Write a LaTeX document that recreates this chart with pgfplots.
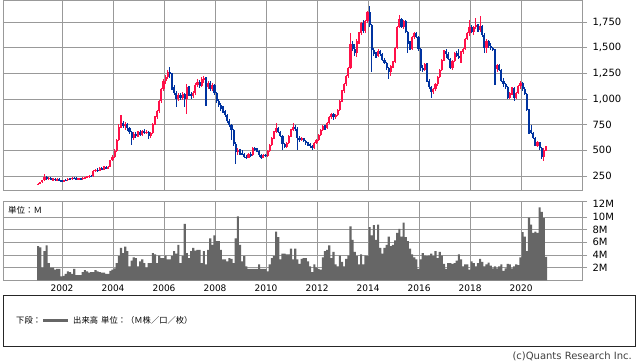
\documentclass[border=0pt]{standalone}
\usepackage{fontspec}
\setmainfont{DejaVu Sans}
\newfontfamily\jp{Noto Sans CJK JP}
\usepackage{pgfplots}
\usepackage{pgfplotstable}
\pgfplotsset{compat=1.18}
\definecolor{cup}{RGB}{255,16,72}
\definecolor{cdn}{RGB}{0,51,160}
\definecolor{gridc}{RGB}{153,153,153}
\definecolor{volc}{RGB}{102,102,102}

% monthly candles, Feb 2001 - Jan 2021: open high low close volume(M)
\pgfplotstableread{
o h l c v
165 185 160 175 5.4
175 195 170 190 5.2
190 215 185 210 2.0
210 270 205 245 4.6
245 250 215 225 5.5
225 240 212 235 2.7
235 240 210 215 2.0
215 230 205 225 2.0
225 232 200 210 1.7
210 228 205 222 1.8
222 228 198 205 1.8
205 212 188 198 0.6
198 215 190 212 0.7
212 225 205 208 1.0
208 230 205 225 1.4
225 235 215 220 1.3
220 238 215 232 1.0
232 240 222 228 1.8
228 236 212 218 0.8
218 232 210 228 0.8
228 234 215 222 0.8
222 236 208 230 1.3
230 245 222 240 1.6
240 252 232 245 1.4
245 258 235 250 1.2
250 262 240 248 1.3
248 310 245 300 1.3
300 320 290 310 1.6
310 330 290 300 1.4
300 335 295 325 1.3
325 335 305 315 1.2
315 345 310 335 1.2
335 348 315 320 1.0
320 345 315 340 1.0
340 410 335 405 1.5
405 450 395 440 1.7
440 510 430 490 1.9
490 610 480 600 2.7
600 760 590 730 3.8
730 845 715 770 5.1
770 790 720 740 4.3
740 775 700 760 5.3
760 770 690 720 4.6
720 730 660 680 2.2
680 690 550 620 3.1
620 680 605 660 3.6
660 680 625 640 3.5
640 690 630 675 2.2
675 700 640 650 3.0
650 700 640 690 3.3
690 705 660 670 2.7
670 695 655 680 2.0
680 690 615 640 2.7
640 680 625 670 2.7
670 770 660 760 4.3
760 830 745 820 4.1
820 895 805 880 2.7
880 990 865 980 3.9
980 1110 965 1100 3.5
1100 1190 1080 1180 3.5
1180 1230 1150 1210 3.9
1210 1280 1190 1260 3.3
1260 1310 1200 1240 3.3
1240 1250 1090 1120 3.8
1120 1140 1040 1060 4.6
1060 1080 920 1000 4.2
1000 1060 980 1040 5.6
1040 1060 990 1010 2.7
1010 1070 990 1050 3.8
1050 1060 920 1000 8.9
1000 1150 855 1120 4.3
1120 1130 1030 1050 3.5
1050 1070 1000 1030 4.6
1030 1080 1010 1060 5.1
1060 1160 1040 1140 4.7
1140 1190 1120 1170 4.8
1170 1185 1110 1130 4.8
1130 1210 1120 1190 2.7
1190 1225 1160 1200 4.6
1200 1210 935 1120 2.5
1120 1180 1100 1160 4.8
1160 1175 1080 1100 6.6
1100 1160 1080 1140 5.6
1140 1150 1040 1060 7.1
1060 1070 960 980 6.2
980 1000 920 940 6.2
940 960 880 900 4.8
900 930 860 880 3.3
880 895 820 840 3.3
840 850 770 790 3.0
790 810 730 750 3.5
750 760 600 700 3.4
700 710 540 560 2.7
560 580 370 480 6.6
480 520 450 500 10.1
500 515 455 470 5.6
470 500 450 460 3.0
460 475 430 440 3.8
440 455 420 430 2.2
430 470 425 460 1.8
460 480 440 450 1.8
450 535 445 520 1.8
520 530 490 500 1.8
500 520 480 490 1.8
490 500 440 450 2.5
450 460 420 430 1.8
430 465 425 455 1.8
455 465 435 445 1.8
445 500 440 490 1.4
490 560 485 550 2.5
550 630 545 620 3.5
620 690 610 680 3.8
680 765 670 720 7.7
720 725 670 680 6.8
680 690 630 640 3.3
640 650 500 560 4.2
560 575 520 530 4.2
530 580 520 570 4.1
570 650 560 640 4.1
640 710 630 700 5.0
700 765 690 730 3.3
730 745 690 710 5.0
710 725 500 620 3.3
620 635 585 600 2.6
600 630 590 620 3.4
620 625 580 590 3.5
590 600 555 570 3.5
570 585 545 560 3.0
560 575 525 540 2.2
540 550 500 520 1.3
520 580 515 570 2.5
570 610 560 600 2.0
600 660 590 650 1.8
650 710 640 700 1.7
700 750 690 740 3.6
740 750 700 720 4.6
720 780 710 770 4.8
770 830 760 820 5.5
820 860 805 850 3.5
850 860 800 820 4.5
820 850 810 840 2.5
840 900 830 890 2.2
890 990 880 985 3.9
985 1090 970 1080 2.9
1080 1160 1060 1150 2.2
1150 1230 1130 1220 3.4
1220 1310 1200 1300 3.9
1300 1640 1290 1540 8.5
1540 1560 1470 1490 6.4
1490 1540 1420 1450 4.5
1450 1580 1410 1560 3.8
1560 1650 1540 1640 2.5
1640 1750 1620 1740 4.1
1740 1770 1640 1660 2.5
1660 1770 1640 1760 3.9
1760 1860 1740 1850 3.8
1850 1910 1700 1720 8.4
1720 1730 1260 1480 7.1
1480 1500 1420 1440 8.7
1440 1460 1400 1420 6.4
1420 1490 1410 1470 8.8
1470 1480 1420 1440 5.1
1440 1450 1370 1380 4.2
1380 1400 1340 1350 5.1
1350 1365 1280 1300 5.6
1300 1310 1190 1260 6.9
1260 1330 1220 1320 5.4
1320 1370 1300 1360 5.6
1360 1510 1350 1500 6.3
1500 1710 1490 1700 7.5
1700 1820 1690 1780 8.1
1780 1790 1690 1700 6.9
1700 1770 1680 1760 9.1
1760 1770 1640 1650 6.8
1650 1660 1450 1540 6.2
1540 1560 1480 1490 5.0
1490 1610 1480 1600 4.1
1600 1650 1580 1640 3.6
1640 1650 1590 1600 3.3
1600 1610 1470 1490 1.8
1490 1500 1270 1300 3.3
1300 1330 1260 1280 4.3
1280 1350 1270 1340 3.9
1340 1350 1170 1180 3.8
1180 1190 1100 1120 3.9
1120 1130 1010 1070 4.2
1070 1110 1050 1100 3.8
1100 1160 1080 1150 4.6
1150 1220 1130 1210 3.5
1210 1290 1200 1280 4.5
1280 1390 1270 1380 3.9
1380 1480 1370 1470 2.6
1470 1490 1400 1440 1.8
1440 1460 1380 1390 2.7
1390 1400 1290 1300 2.7
1300 1380 1285 1370 2.6
1370 1460 1360 1450 2.7
1450 1470 1410 1420 3.1
1420 1490 1390 1400 4.1
1400 1470 1350 1460 3.3
1460 1500 1440 1490 2.2
1490 1590 1480 1580 2.5
1580 1650 1570 1640 2.5
1640 1770 1610 1700 1.7
1700 1720 1640 1650 3.0
1650 1710 1620 1700 2.7
1700 1790 1680 1720 2.2
1720 1730 1650 1670 2.7
1670 1805 1650 1710 3.4
1710 1720 1600 1620 2.9
1620 1640 1450 1500 2.2
1500 1580 1450 1560 2.5
1560 1570 1500 1520 2.8
1520 1545 1480 1500 2.3
1500 1510 1470 1480 1.9
1480 1490 1140 1290 2.2
1290 1340 1260 1330 1.9
1330 1340 1270 1280 2.2
1280 1290 1170 1180 2.5
1180 1200 1120 1150 1.5
1150 1160 1100 1120 1.9
1120 1130 1000 1010 2.6
1010 1070 1000 1060 2.5
1060 1120 1040 1110 1.9
1110 1120 985 1010 2.2
1010 1070 1000 1060 2.5
1060 1140 1050 1130 2.4
1130 1180 1100 1160 3.6
1160 1170 1080 1100 7.6
1100 1120 1040 1050 6.9
1050 1060 880 890 4.6
890 900 660 700 9.9
700 745 660 670 8.8
670 680 610 620 7.5
620 630 540 545 7.7
545 590 535 580 7.5
580 585 500 520 11.5
520 530 420 440 10.8
440 520 400 500 9.8
500 545 495 530 3.7
}\data

\begin{document}
\begin{tikzpicture}[x=1pt,y=1pt]
\path[use as bounding box] (0,0) rectangle (638,362);
\pgfplotsset{
  base/.style={
    scale only axis, width=579pt, anchor=south west,
    xmin=1999.686, xmax=2022.39,
    axis line style={draw=gridc, line width=0.8pt},
    grid=major, grid style={draw=gridc, line width=0.8pt},
    xtick={2002,2004,...,2020},
    ytick pos=right, yticklabel pos=right,
    tick style={draw=gridc, line width=0.8pt},
    ytick align=outside, major tick length=5pt,
    xtick style={draw=none},
    yticklabel style={font=\fontsize{10}{12}\selectfont, anchor=west, inner sep=0pt, xshift=5.4pt},
    clip=true,
  },
  candle/.style={draw=none, no markers, forget plot, error bars/.cd, y dir=both, y explicit, error mark=none},
}
% ---------- price panel ----------
\begin{axis}[base, at={(3pt,172pt)}, height=190pt,
  ymin=114, ymax=1964,
  ytick={250,500,750,1000,1250,1500,1750},
  yticklabels={250,500,750,{1,000},{1,250},{1,500},{1,750}},
  xticklabels={}]
% up candles
\addplot[candle, error bar style={draw=cup, line width=1.1pt}]
  table[x expr={2001+(\coordindex+0.75)/12},
        y expr={\thisrow{c}>=\thisrow{o} ? (\thisrow{h}+\thisrow{l})/2 : nan},
        y error expr={(\thisrow{h}-\thisrow{l})/2}] {\data};
\addplot[candle, error bar style={draw=cup, line width=2.1pt}]
  table[x expr={2001+(\coordindex+0.75)/12},
        y expr={\thisrow{c}>=\thisrow{o} ? (\thisrow{o}+\thisrow{c})/2 : nan},
        y error expr={max(abs(\thisrow{c}-\thisrow{o})/2,5)}] {\data};
% down candles
\addplot[candle, error bar style={draw=cdn, line width=1.1pt}]
  table[x expr={2001+(\coordindex+0.75)/12},
        y expr={\thisrow{c}<\thisrow{o} ? (\thisrow{h}+\thisrow{l})/2 : nan},
        y error expr={(\thisrow{h}-\thisrow{l})/2}] {\data};
\addplot[candle, error bar style={draw=cdn, line width=2.1pt}]
  table[x expr={2001+(\coordindex+0.75)/12},
        y expr={\thisrow{c}<\thisrow{o} ? (\thisrow{o}+\thisrow{c})/2 : nan},
        y error expr={max(abs(\thisrow{c}-\thisrow{o})/2,5)}] {\data};
\end{axis}
% ---------- volume panel ----------
\begin{axis}[base, at={(3pt,81.7pt)}, height=79pt,
  ymin=0, ymax=12.47,
  ytick={2,4,6,8,10}, yticklabels={2M,4M,6M,8M,10M},
  extra y ticks={12.4}, extra y tick labels={12M},
  extra y tick style={grid=none, yticklabel style={yshift=-2.5pt}},
  xticklabels={2002,2004,2006,2008,2010,2012,2014,2016,2018,2020},
  xticklabel style={font=\fontsize{9}{11}\selectfont, inner sep=0pt, yshift=-4.4pt}]
\addplot[ybar, bar width=0.0833, fill=volc, draw=none]
  table[x expr={2001+(\coordindex+0.75)/12}, y=v] {\data};
\end{axis}
\node[anchor=west, inner sep=0pt, font=\jp\fontsize{8.5}{10}\selectfont] at (8,152) {単位：Ｍ};
% ---------- legend box ----------
\draw[black!85, line width=0.8pt] (3,16) rectangle (635,67);
\node[anchor=west, inner sep=0pt, font=\jp\fontsize{8.3}{10}\selectfont] at (16,42) {下段：};
\draw[volc, line width=3pt] (43,42) -- (68,42);
\node[anchor=west, inner sep=0pt, font=\jp\fontsize{8.3}{10}\selectfont] at (73,42) {出来高};
\node[anchor=west, inner sep=0pt, font=\jp\fontsize{8.3}{10}\selectfont] at (101,42) {単位：（Ｍ株／口／枚）};
\node[anchor=south east, inner sep=0pt, font=\fontsize{10}{12}\selectfont, text=black!75] at (632,1) {(c)Quants Research Inc.};
\end{tikzpicture}
\end{document}
